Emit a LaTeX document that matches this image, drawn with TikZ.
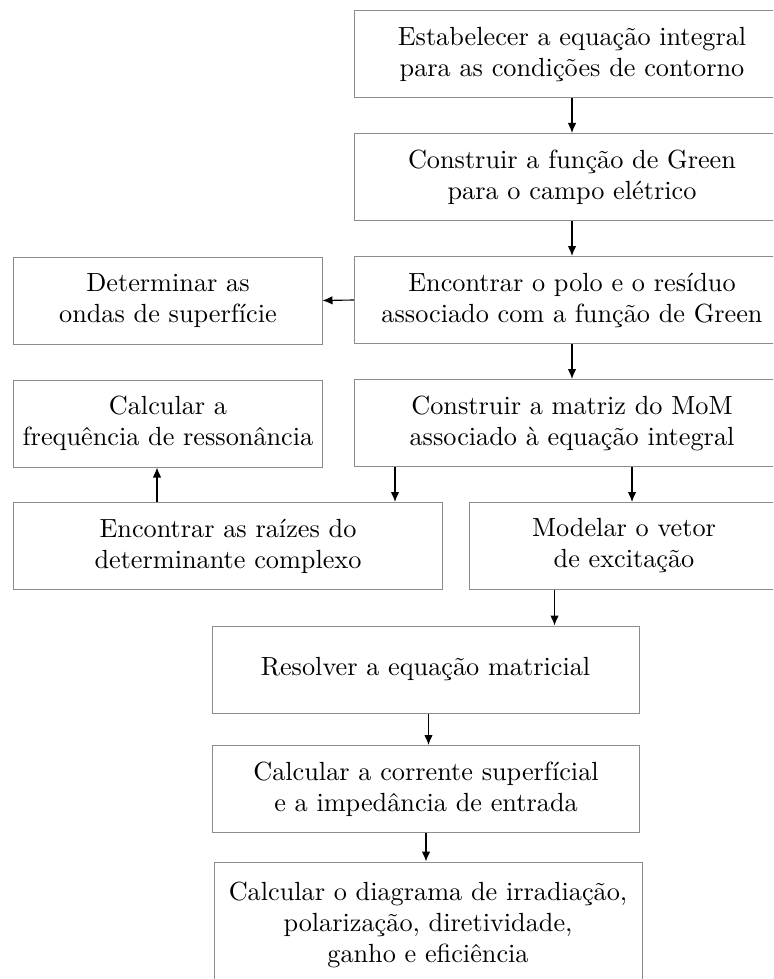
\documentclass[tikz,border=0pt]{standalone}
\usepackage{amsmath,amssymb}
\usepackage{xcolor}
\usepackage{tikz}
\usetikzlibrary{calc,arrows.meta}
\definecolor{frame}{HTML}{8C8C8C}
\definecolor{ink}{HTML}{000000}
\tikzset{
  box/.style={draw=frame, line width=0.4pt, align=center, inner sep=2pt,
    font=\fontsize{10.5}{12.4}\selectfont,
    minimum width=174pt, minimum height=34.8pt},
  arr/.style={draw=ink, line width=0.45pt, -{Latex[length=4pt,width=3.4pt]}},
}

\begin{document}
\begin{tikzpicture}[x=0.4pt, y=-0.4pt]
  \useasboundingbox (0,0) rectangle (773,979);
  \clip (0,0) rectangle (773,979);
  % coluna da direita
  \node[box] (est) at (572,54.5) {Estabelecer a equação integral\\para as condições de contorno};
  \node[box] (green) at (572,177) {Construir a função de Green\\para o campo elétrico};
  \node[box] (polo) at (572,300) {Encontrar o polo e o resíduo\\associado com a função de Green};
  \node[box] (mom) at (572,423) {Construir a matriz do MoM\\associado à equação integral};
  \node[box, minimum width=124pt] (vetor) at (624,546) {Modelar o vetor\\de excitação};
  % coluna da esquerda
  \node[box, minimum width=123.2pt] (ondas) at (168,300.5) {Determinar as\\ondas de superfície};
  \node[box, minimum width=123.2pt] (freq) at (168,423.5) {Calcular a\\frequência de ressonância};
  \node[box, minimum width=171.2pt] (raizes) at (228,546) {Encontrar as raízes do\\determinante complexo};
  % parte de baixo
  \node[box, minimum width=170.8pt] (resolver) at (425.5,669.5) {Resolver a equação matricial};
  \node[box, minimum width=170.8pt] (corrente) at (426,789) {Calcular a corrente superfícial\\e a impedância de entrada};
  \node[box, minimum width=171.2pt, minimum height=50.4pt] (saida) at (428,925) {Calcular o diagrama de irradiação,\\polarização, diretividade,\\ganho e eficiência};

  % pontos de saida das setas
  \coordinate (p1) at ($(mom.south west)+(41,0)$);
  \coordinate (p2) at ($(vetor.north)+(8,0)$);
  \coordinate (p3) at ($(freq.south)+(-11,0)$);
  \coordinate (p4) at ($(vetor.south west)+(86,0)$);
  \coordinate (p5) at ($(resolver.south)+(3,0)$);

  \draw[arr] (est.south) -- (green.north);
  \draw[arr] (green.south) -- (polo.north);
  \draw[arr] (polo.west) -- (ondas.east);
  \draw[arr] (polo.south) -- (mom.north);
  \draw[arr] (p1) -- (p1 |- raizes.north);
  \draw[arr] (p2 |- mom.south) -- (p2);
  \draw[arr] (p3 |- raizes.north) -- (p3);
  \draw[arr] (p4) -- (p4 |- resolver.north);
  \draw[arr] (p5) -- (p5 |- corrente.north);
  \draw[arr] (corrente.south) -- (corrente.south |- saida.north);
\end{tikzpicture}
\end{document}
